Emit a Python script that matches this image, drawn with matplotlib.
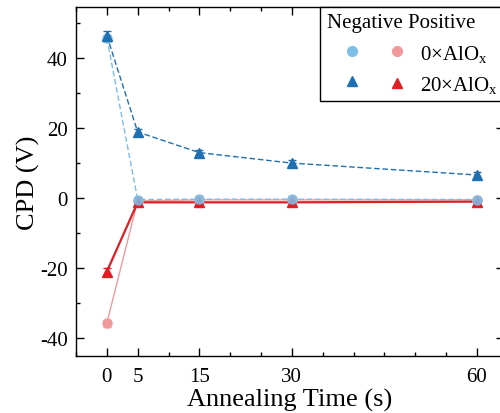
import matplotlib
matplotlib.use("Agg")
import matplotlib.pyplot as plt
from matplotlib.lines import Line2D
from matplotlib.ticker import FixedLocator, MultipleLocator

plt.rcParams['font.family'] = ['Liberation Serif', 'DejaVu Serif']
plt.rcParams['mathtext.fontset'] = 'custom'
plt.rcParams['mathtext.rm'] = 'Liberation Serif'
plt.rcParams['mathtext.it'] = 'Liberation Serif:italic'
plt.rcParams['axes.unicode_minus'] = False

time_s = [0, 5, 15, 30, 60]
neg_0 = [45.7, -0.4, -0.3, -0.3, -0.4]
neg_20 = [46.4, 18.9, 13.0, 10.0, 6.6]
pos_0 = [-35.7, -0.8, -0.5, -0.5, -0.5]
pos_20 = [-21.0, -1.2, -1.2, -1.2, -1.0]
neg_0_err = [1.0, 0.8, 0.8, 0.8, 0.8]
neg_20_err = [1.2, 0.8, 0.8, 0.8, 0.8]
pos_0_err = [1.0, 0.8, 0.8, 0.8, 0.8]
pos_20_err = [1.0, 0.8, 0.8, 0.8, 0.8]

c_neg0 = '#7dbde6'
c_neg20 = '#1f70b0'
c_pos0 = '#f19a9c'
c_pos20 = '#de1f26'

fig = plt.figure(figsize=(5.0, 4.14), dpi=100)
ax = fig.add_axes([0.152, 0.1377, 0.856, 0.843])

# positive series drawn first, negative on top near zero
ax.plot(time_s, pos_0, color=c_pos0, lw=1.0, zorder=2)
ax.errorbar(time_s, pos_0, yerr=pos_0_err, fmt='o', ms=6.5, color=c_pos0,
            ecolor=c_pos0, elinewidth=1, capsize=3, zorder=3)
ax.plot(time_s, pos_20, color=c_pos20, lw=1.6, zorder=2)
ax.errorbar(time_s, pos_20, yerr=pos_20_err, fmt='^', ms=6.5, color=c_pos20,
            ecolor=c_pos20, elinewidth=1, capsize=3, zorder=3)
ax.plot(time_s, neg_0, color=c_neg0, lw=1.0, ls=(0, (4, 2)), zorder=2)
ax.errorbar(time_s, neg_0, yerr=neg_0_err, fmt='o', ms=6.5, color=c_neg0,
            ecolor=c_neg0, elinewidth=1, capsize=3, zorder=3, alpha=0.85)
ax.plot(time_s, neg_20, color=c_neg20, lw=1.0, ls=(0, (4, 2)), zorder=2)
ax.errorbar(time_s, neg_20, yerr=neg_20_err, fmt='^', ms=6.5, color=c_neg20,
            ecolor=c_neg20, elinewidth=1, capsize=3, zorder=3)

ax.set_xlim(-5, 64.4)
ax.set_ylim(-45.1, 54.6)
ax.xaxis.set_major_locator(FixedLocator(time_s))
ax.xaxis.set_minor_locator(MultipleLocator(5))
ax.yaxis.set_major_locator(MultipleLocator(20))
ax.yaxis.set_minor_locator(MultipleLocator(10))
ax.tick_params(which='both', direction='in', top=True, right=True,
               labelsize=15, width=1)
ax.tick_params(which='major', length=6)
ax.tick_params(which='minor', length=3)
ax.tick_params(axis='x', pad=8)
ax.tick_params(axis='y', pad=6)
for s in ax.spines.values():
    s.set_linewidth(1.0)

ax.set_xlabel('Annealing Time (s)', fontsize=19, labelpad=1)
ax.set_ylabel('CPD (V)', fontsize=19, labelpad=0)

handles = [Line2D([], [], ls='none', marker='o', ms=7, color=c_neg0),
           Line2D([], [], ls='none', marker='^', ms=7, color=c_neg20),
           Line2D([], [], ls='none', marker='o', ms=7, color=c_pos0),
           Line2D([], [], ls='none', marker='^', ms=7, color=c_pos20)]
labels = ['', '', r'0×AlO$_\mathrm{x}$', r'20×AlO$_\mathrm{x}$']
leg = ax.legend(handles, labels, ncol=2, title='Negative Positive',
                loc='upper left', bbox_to_anchor=(0.571, 1.0),
                fontsize=15, title_fontsize=15, frameon=True, fancybox=False,
                edgecolor='black', framealpha=1, columnspacing=-0.1,
                handlelength=2.4, handletextpad=-0.1, borderpad=0.3,
                labelspacing=0.5, alignment='left', borderaxespad=0)
leg.get_frame().set_linewidth(1.0)

fig.savefig('out.png', dpi=100)
